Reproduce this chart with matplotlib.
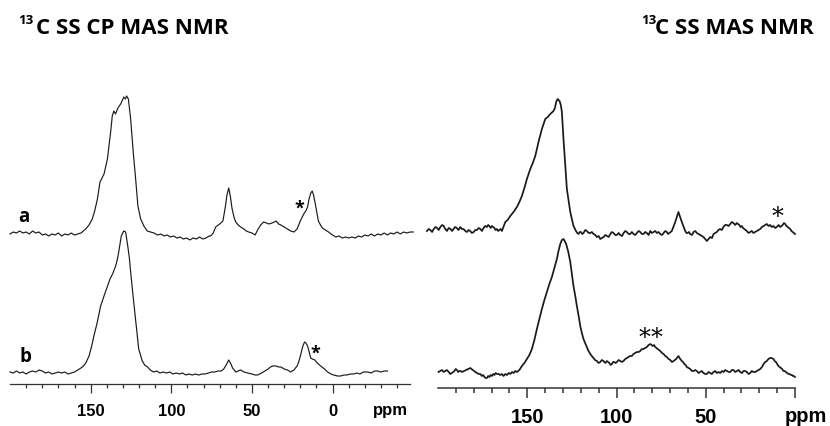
import numpy as np
import matplotlib
matplotlib.use("Agg")
import matplotlib.pyplot as plt
from matplotlib.ticker import FixedLocator

# Spectra are stored as (chemical shift in ppm, intensity above baseline) pairs.

# ---- 13C SS CP MAS NMR, trace a ----
cp_a = [(200, 1), (198, 3), (196, 2), (194, 4), (192, 2), (190, 3), (188, 1), (186, 4), (184, 2), (182, 3), (180, 0),
        (178, 1), (176, -1), (174, 1), (172, 0), (170, 2), (168, -1), (166, 1), (164, 0), (162, 2), (160, 0), (158, 1),
        (156, 2), (153.1, 6), (151, 10), (149, 16), (147.5, 24), (145.8, 36), (144.2, 53), (141.7, 61), (139.6, 76),
        (137.6, 103), (136.6, 119), (135.6, 124), (134.6, 121), (134.1, 123), (133.1, 127), (131.4, 131), (129.4, 138),
        (128.4, 136), (127.7, 139), (126.6, 136), (125.2, 116), (123.6, 83), (122.1, 56), (120.7, 29), (119, 16),
        (117, 9), (114.9, 4), (112.8, 3), (110.8, 2), (108.5, 0), (106.5, 1), (104.5, -1), (102.5, 0), (100.5, -2),
        (98.5, -1), (96.5, -3), (94.5, -2), (92.5, -4), (90.5, -3), (88.5, -5), (86.5, -3), (84.5, -4), (82.5, -2),
        (80.5, -4), (78.5, -3), (76.5, -1), (75.6, -1), (74, 2), (72.5, 8), (70, 11), (68, 14), (66.5, 28), (65.5, 40),
        (64.4, 47), (63.3, 38), (62.4, 27), (61, 17), (60, 13), (58.5, 10), (57, 8), (55, 6), (53.5, 4), (52, 3),
        (50, 2), (48, 0), (46.5, 5), (44.6, 10), (42.7, 13), (41, 12), (39.6, 11), (37.5, 12), (36, 13), (35, 14),
        (33.5, 11), (32, 10), (30, 8), (28, 6), (26, 4), (24, 3), (22, 6), (20, 14), (18.5, 19), (17.5, 22),
        (16.6, 24), (15.5, 28), (14.6, 36), (13.5, 42), (12.6, 44), (11.8, 40), (10.7, 31), (9.7, 22), (8.8, 14),
        (7.5, 10), (6.3, 7), (4.5, 5), (2.5, 3), (1, 1), (-2, -2), (-4, -1), (-6, -3), (-8, -2), (-10, -3), (-12, -2),
        (-14, -3), (-16, -1), (-18, -2), (-20, 0), (-22, -1), (-24, 1), (-26, -1), (-28, 1), (-30, 0), (-32, 2),
        (-34, 0), (-36, 2), (-38, 1), (-40, 3), (-42, 1), (-44, 3), (-46, 2), (-48, 3), (-50, 3)]

# ---- 13C SS CP MAS NMR, trace b ----
cp_b = [(200, 1), (198, 0), (196, 2), (194, 0), (192, 1), (190, -1), (188, 1), (186, 2), (184, 1), (182, 3), (180, 2),
        (178, 0), (176, 1), (174, -1), (172, 0), (170, 1), (168, 0), (166, 1), (164, -1), (162, 0), (160, 1), (158, 3),
        (156, 5), (154.4, 7), (153, 10), (151, 17), (149.5, 26), (148, 37), (146, 50), (143.8, 67), (141.5, 78),
        (139.5, 87), (138, 94), (136.4, 99), (134.5, 107), (133.5, 113), (132.6, 121), (131.6, 131), (131, 137),
        (129.5, 142), (128.3, 141), (127, 127), (126, 115), (125.2, 101), (123.3, 71), (121.5, 44), (120.2, 24),
        (118, 12), (116.5, 8), (114.7, 6), (113, 3), (111, 1), (109, 2), (107, 0), (105, 1), (103, 0), (101, 1),
        (99, -1), (97, 0), (95, -1), (93, 0), (91, -2), (89, -1), (87, -2), (85, -1), (83, -2), (81, -1), (79, -1),
        (77, 0), (75, 1), (73, 1), (71, 2), (69, 2), (67.5, 4), (66, 8), (64.4, 13), (63, 9), (62, 5), (61, 3),
        (60, 1), (58.5, 2), (57, 3), (55, 1), (52.7, 0), (50, -1), (48, -2), (46.5, -2), (44, 0), (42, 2), (40, 4),
        (38.5, 6), (37, 7), (35, 7), (33.5, 6), (32, 6), (30, 4), (28, 3), (26, 1), (24, 3), (22, 7), (21, 11),
        (19.8, 18), (18.6, 26), (17.4, 31), (16.5, 30), (15.5, 27), (14.5, 21), (13.6, 15), (12.5, 14), (11, 13),
        (9.5, 10), (7.4, 7), (5, 4), (3.1, 1), (1, -1), (-0.6, -2), (-3, -3), (-5, -3), (-7, -2), (-9, -2),
        (-11, -1), (-13, -1), (-15, 0), (-17, -1), (-19, 1), (-21.7, 1), (-24, 0), (-26, 2), (-28, 2), (-30, 1),
        (-32, 2), (-34, 2)]

# ---- 13C SS MAS NMR, trace a ----
mas_a = [(206.2, 4), (205.2, 6), (204.3, 5), (203.3, 3), (202.4, 6), (201.4, 8), (200.5, 7), (199.6, 5), (198.7, 8),
         (197.7, 10), (196.8, 9), (196.3, 7), (195.9, 6), (195.4, 5), (195, 4), (194, 7), (193, 6), (192.1, 4),
         (191.3, 6), (190.4, 8), (189.5, 7), (188.5, 5), (187.5, 8), (186.6, 6), (185.7, 6), (184.7, 4), (183.8, 3),
         (182.9, 5), (182, 4), (181, 2), (180, 3), (179.1, 5), (178.2, 5), (177.2, 7), (176.3, 6), (175.4, 4),
         (174.5, 7), (173.5, 9), (172.6, 8), (171.9, 10), (171.2, 9), (170.5, 7), (169.8, 9), (169.1, 8), (168.4, 7),
         (167.7, 5), (167, 6), (166.3, 4), (165.6, 5), (164.9, 6), (164.2, 4), (162.3, 13), (161, 15), (159.5, 19),
         (157.7, 23), (155.8, 28), (154.4, 33), (153, 39), (151.6, 47), (150.2, 56), (148.3, 66), (146.9, 72),
         (145.5, 79), (143.7, 93), (141.8, 106), (139.9, 116), (138.5, 118), (137.1, 121), (135.3, 124), (134.5, 127),
         (133.8, 133), (133, 136), (131.9, 134), (131.2, 130), (130.6, 123), (129.7, 96), (128.7, 69), (127.8, 46),
         (125.9, 23), (124.1, 9), (122.7, 4), (122, 2), (121.3, 1), (120.6, 3), (119.9, 3), (119.2, 1), (118.5, 2),
         (117.5, 5), (116.6, 4), (115.6, 2), (114.7, 2), (113.8, 3), (112.9, 1), (111.9, 0), (111, -2), (110, -1),
         (109.1, -4), (108.1, -3), (107.2, -2), (106.3, 0), (105.4, -1), (104.4, -2), (103.5, 1), (102.6, 3),
         (101.7, 2), (100.7, 0), (99.8, 0), (98.8, 2), (97.9, 0), (96.9, -1), (96, 2), (95.1, 4), (94.2, 3), (93.2, 1),
         (92.3, 1), (91.4, 3), (90.5, 1), (89.5, 0), (88.6, 2), (87.6, 4), (86.7, 3), (85.8, 1), (84.9, 1), (83.9, 3),
         (83, 2), (82, 0), (81.1, 4), (80.2, 2), (79.3, 3), (78.3, 4), (77.4, 2), (76.4, 3), (75.5, 1), (74.5, 0),
         (73.6, 2), (72.7, 4), (71.8, 3), (71.1, 1), (70.4, 2), (69.7, 3), (69, 4), (67.1, 13), (65.3, 23), (63.4, 13),
         (61.5, 4), (60.8, 2), (60.1, 2), (59.4, 3), (58.7, 1), (57.7, 0), (56.8, 3), (55.9, 4), (55, 2), (54, 1),
         (53.1, 0), (52.2, -1), (51.3, -2), (50.3, -4), (49.4, -6), (48.4, -4), (47.5, -2), (46.5, -3), (45.6, 1),
         (44.7, 2), (43.8, 3), (42.9, 5), (42, 6), (41, 5), (40.1, 8), (39.1, 10), (38.2, 10), (37.2, 9), (36.3, 11),
         (35.4, 13), (34.5, 12), (33.5, 10), (32.6, 12), (31.9, 11), (31.2, 10), (30.5, 8), (29.8, 9), (29.1, 7),
         (28.4, 6), (27.7, 5), (27, 4), (26, 2), (25.1, 3), (24.2, 4), (23.3, 2), (22.3, 3), (21.4, 4), (20.4, 5),
         (19.5, 6), (18.5, 8), (17.6, 9), (16.7, 10), (15.8, 11), (14.8, 9), (13.9, 10), (13, 8), (12.1, 9),
         (11.1, 7), (10.2, 8), (9.2, 10), (8.3, 8), (7.6, 9), (6.9, 10), (6.2, 12), (5.5, 11), (4.8, 9), (4.1, 8),
         (3.4, 7), (2.7, 6), (2, 4), (1.3, 3), (0.6, 2), (0, 1)]

# ---- 13C SS MAS NMR, trace b ----
mas_b = [(199.7, 1), (198.7, 2), (197.8, 3), (196.8, 1), (195.9, 2), (195, 3), (194, 1), (193.1, -1), (192.2, 0),
         (191.5, 1), (190.8, 2), (190.1, 4), (189.4, 3), (188.7, 1), (188, 2), (187.3, 2), (186.6, 1), (185.4, 2),
         (184.2, 3), (183, 4), (181.9, 5), (181.2, 4), (180.5, 3), (179.8, 2), (179.1, 1), (178.1, 0), (177.2, -1),
         (176.3, -1), (175.4, -3), (174.7, -2), (174, -4), (173.3, -5), (172.6, -5), (171.9, -3), (171.2, -4),
         (170.5, -2), (169.8, -3), (169.1, -1), (168.4, -2), (167.7, 0), (167, -1), (166, -1), (165.1, -2),
         (164.2, -1), (163.3, -3), (162.3, -1), (161.4, -2), (160.4, 0), (159.5, -1), (158.5, 1), (157.6, 0),
         (156.7, 2), (155.8, 1), (155.1, 2), (154.4, 3), (153, 7), (151.6, 10), (150.2, 14), (148.8, 18), (147.4, 24),
         (146, 33), (144.6, 44), (143.2, 54), (141.8, 64), (140.4, 73), (139, 81), (137.6, 89), (136.2, 96),
         (134.8, 105), (133.4, 114), (132.5, 122), (131.5, 129), (130.6, 133), (129.7, 134), (129, 132), (128.2, 129),
         (127, 121), (125.9, 111), (125, 99), (124.1, 87), (123.1, 77), (122.2, 67), (121.2, 57), (120.3, 47),
         (119.4, 40), (118.5, 34), (117.1, 28), (115.7, 22), (114.3, 18), (112.9, 15), (112, 13), (111, 12),
         (110, 10), (109.1, 11), (108.2, 13), (107.3, 12), (106.3, 10), (105.4, 12), (104.7, 11), (104, 10),
         (103.3, 8), (102.6, 9), (101.9, 11), (101.2, 11), (100.5, 10), (99.8, 11), (98.8, 13), (97.9, 12), (97, 11),
         (96.1, 12), (95.1, 14), (94.2, 15), (93.2, 16), (92.3, 17), (91.4, 17), (90.5, 19), (89.5, 20), (88.6, 21),
         (87.6, 21), (86.7, 22), (85.8, 24), (84.9, 24), (83.9, 25), (83, 26), (82, 28), (81.1, 29), (80.4, 28),
         (79.7, 27), (79, 28), (78.3, 26), (77.6, 25), (76.9, 24), (76.2, 23), (75.5, 22), (74.5, 20), (73.6, 19),
         (72.7, 17), (71.8, 16), (70.8, 14), (69.9, 13), (68.9, 11), (68, 12), (67.3, 13), (66.6, 14), (65.3, 17),
         (64.3, 14), (63.4, 12), (62.7, 11), (62, 9), (61.3, 8), (60.6, 6), (59.6, 5), (58.7, 4), (57.8, 2),
         (56.9, 2), (55.9, 3), (55, 2), (54, 0), (53.1, 1), (52.2, 2), (51.3, 0), (50.3, -1), (49.4, -1), (48.4, 1),
         (47.5, 0), (46.6, -1), (45.7, 1), (44.7, 2), (43.8, 0), (42.8, 1), (41.9, 0), (40.9, 2), (40, 1), (39.1, 3),
         (38.2, 2), (37.2, 1), (36.3, 1), (35.4, 3), (34.5, 3), (33.5, 1), (32.6, 2), (31.6, 3), (30.7, 1),
         (29.7, 0), (28.8, 2), (27.9, 2), (27, 1), (26, -1), (25.1, 0), (24.2, 2), (23.3, 1), (22.3, 1), (21.4, 2),
         (20.4, 3), (19.5, 4), (18.5, 6), (17.6, 9), (16.7, 11), (15.8, 12), (14.9, 14), (14, 15), (13, 15),
         (12.1, 14), (11.4, 12), (10.7, 11), (10, 9), (9.3, 7), (8.6, 6), (7.9, 5), (7.2, 4), (6.5, 2), (5.8, 2),
         (5.1, 1), (4.4, 0), (3.7, -1), (3, -1), (2.3, -2), (1.7, -2), (1.2, -3), (0.6, -3), (0, -4)]

# vertical offsets of the stacked traces
cp_offsets = {"a": 149, "b": 11}
mas_offsets = {"a": 153, "b": 15}

# tick values and labels
major_ticks = [150, 100, 50, 0]
cp_tick_labels = ["150", "100", "50", "0"]
mas_tick_labels = ["150", "100", "50", ""]

W, H = 830, 427
fig = plt.figure(figsize=(W / 100, H / 100), dpi=100)
fig.patch.set_facecolor("white")


def px_box(x0, x1, y_bottom, y_top):
    return [x0 / W, 1 - y_bottom / H, (x1 - x0) / W, (y_bottom - y_top) / H]


def split(pairs):
    arr = np.array(pairs, dtype=float)
    return arr[:, 0], arr[:, 1]


tick_font = "Liberation Sans"
label_font = "Open Sans"
ink = "#1a1a1a"
axis_grey = "#333333"


def style_axis(ax, xlim, ylim, labels, minors, fsize, lw, major_len, minor_len, pad):
    ax.set_xlim(*xlim)
    ax.set_ylim(*ylim)
    for side in ("top", "left", "right"):
        ax.spines[side].set_visible(False)
    ax.spines["bottom"].set_color(axis_grey)
    ax.spines["bottom"].set_linewidth(lw)
    ax.set_yticks([])
    ax.xaxis.set_major_locator(FixedLocator(major_ticks))
    ax.set_xticklabels(labels)
    ax.xaxis.set_minor_locator(FixedLocator(minors))
    ax.tick_params(axis="x", which="major", length=major_len, width=lw, color=axis_grey,
                   pad=pad, labelsize=fsize)
    ax.tick_params(axis="x", which="minor", length=minor_len, width=lw, color=axis_grey)
    for t in ax.get_xticklabels():
        t.set_fontfamily(tick_font)
        t.set_fontweight("bold")
    ax.patch.set_alpha(0)


# ---- left panel: CP MAS ----
axL = fig.add_axes(px_box(10, 410, 385, 90))
style_axis(axL, (200, -48), (0, 295), cp_tick_labels,
           [v for v in range(-40, 200, 10) if v % 50 != 0], 12, 0.9, 6.5, 3, 7)
for key, trace in (("a", cp_a), ("b", cp_b)):
    x, y = split(trace)
    axL.plot(x, y + cp_offsets[key], color=ink, lw=0.85, clip_on=False)
axL.text(191.5, 168, "a", fontsize=13.5, fontweight="bold", family=label_font, ha="center", va="center")
axL.text(190.3, 28, "b", fontsize=13.5, fontweight="bold", family=label_font, ha="center", va="center")
axL.text(20.4, 176, "*", fontsize=13, fontweight="bold", family=label_font, ha="center", va="center")
axL.text(10.5, 31, "*", fontsize=13, fontweight="bold", family=label_font, ha="center", va="center")

# ---- right panel: MAS ----
axR = fig.add_axes(px_box(438, 795, 389, 90))
style_axis(axR, (200, 0), (0, 299), mas_tick_labels,
           [v for v in range(10, 200, 10) if v % 50 != 0], 14.5, 1.1, 7.5, 3.8, 6)
for key, trace in (("a", mas_a), ("b", mas_b)):
    x, y = split(trace)
    axR.plot(x, y + mas_offsets[key], color=ink, lw=1.25, clip_on=False)
axR.text(10, 171, "*", fontsize=17, family="DejaVu Serif", ha="center", va="center")
axR.text(84.5, 50, "*", fontsize=17, family="DejaVu Serif", ha="center", va="center")
axR.text(77.7, 50, "*", fontsize=17, family="DejaVu Serif", ha="center", va="center")

# ---- axis unit labels ----
fig.text(390 / W, 1 - 411 / H, "ppm", fontsize=12, fontweight="bold", family=tick_font, ha="center", va="center")
fig.text(806 / W, 1 - 417 / H, "ppm", fontsize=14.5, fontweight="bold", family=tick_font, ha="center", va="center")


# ---- panel titles with superscript mass number ----
def title(x_sup, x_main, text):
    fig.text(x_sup / W, 1 - 24 / H, "13", fontsize=9.5, fontweight="bold", family=label_font,
             ha="left", va="baseline")
    fig.text(x_main / W, 1 - 34 / H, text, fontsize=16, fontweight="bold", family=label_font,
             ha="left", va="baseline")


title(18, 36, "C SS CP MAS NMR")
title(641, 655, "C SS MAS NMR")

fig.savefig("out.png", dpi=100, facecolor="white")
